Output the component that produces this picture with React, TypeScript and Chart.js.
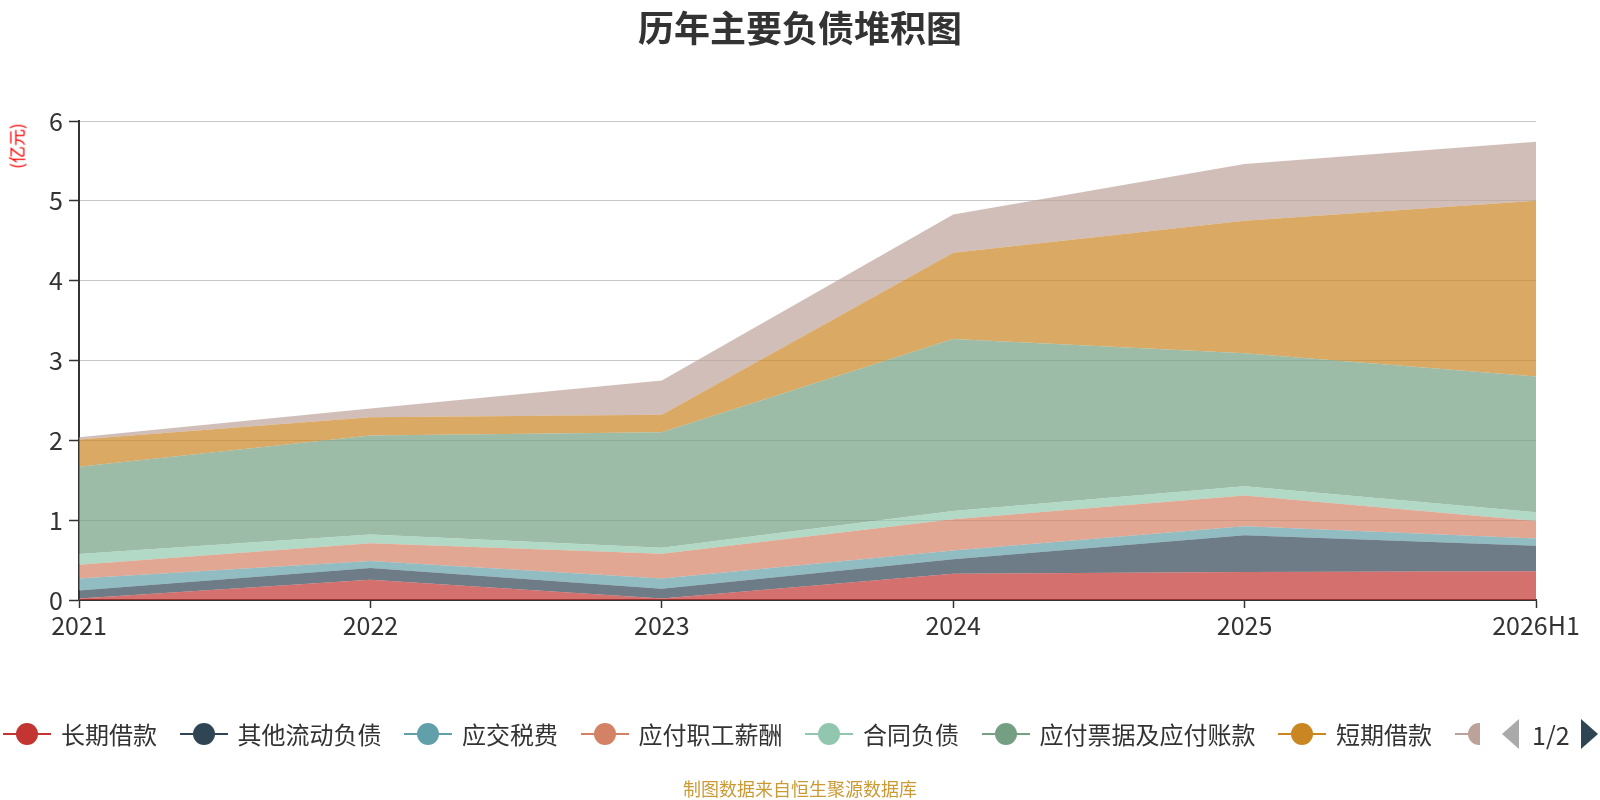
import { useEffect, useRef } from "react";
import { Chart, registerables } from "chart.js";

Chart.register(...registerables);

// categories and values (亿元)
const years = ["2021", "2022", "2023", "2024", "2025", "2026H1"];
const seriesNames = [
  "长期借款",
  "其他流动负债",
  "应交税费",
  "应付职工薪酬",
  "合同负债",
  "应付票据及应付账款",
  "短期借款",
  "其他应付款(合计)",
];
const seriesColors = [
  "#c23531",
  "#2f4554",
  "#61a0a8",
  "#d48265",
  "#91c7ae",
  "#749f83",
  "#ca8622",
  "#bda29a",
];
const longTermLoans = [0.02, 0.255, 0.02, 0.33, 0.35, 0.36];
const otherCurrentLiab = [0.1, 0.145, 0.12, 0.18, 0.46, 0.32];
const taxesPayable = [0.15, 0.09, 0.13, 0.11, 0.115, 0.09];
const payrollPayable = [0.17, 0.22, 0.31, 0.39, 0.385, 0.22];
const contractLiab = [0.135, 0.11, 0.075, 0.105, 0.115, 0.11];
const notesAndAccounts = [1.095, 1.24, 1.445, 2.155, 1.665, 1.7];
const shortTermLoans = [0.34, 0.23, 0.22, 1.08, 1.66, 2.2];
const otherPayables = [0.03, 0.11, 0.43, 0.48, 0.71, 0.74];
const yTicks = [0, 1, 2, 3, 4, 5, 6];

const seriesValues = [
  longTermLoans,
  otherCurrentLiab,
  taxesPayable,
  payrollPayable,
  contractLiab,
  notesAndAccounts,
  shortTermLoans,
  otherPayables,
];

const FONT = '"Noto Sans CJK SC", "Noto Sans", sans-serif';

function hexToRgba(hex: string, a: number) {
  const n = parseInt(hex.slice(1), 16);
  return `rgba(${(n >> 16) & 255}, ${(n >> 8) & 255}, ${n & 255}, ${a})`;
}

function LegendIcon({ color }: { color: string }) {
  return (
    <div style={{ position: "relative", width: 48, height: 24, flex: "0 0 48px" }}>
      <div
        style={{
          position: "absolute",
          left: 0,
          top: 11,
          width: 48,
          height: 2,
          background: color,
        }}
      />
      <div
        style={{
          position: "absolute",
          left: 13,
          top: 1,
          width: 22,
          height: 22,
          borderRadius: "50%",
          background: color,
        }}
      />
    </div>
  );
}

export default function App() {
  const chartRef = useRef<HTMLCanvasElement | null>(null);

  useEffect(() => {
    document.body.style.margin = "0";
    if (!chartRef.current) return;

    const chart = new Chart(chartRef.current, {
      type: "line",
      data: {
        labels: years,
        datasets: seriesValues.map((vals, i) => ({
          label: seriesNames[i],
          data: vals,
          backgroundColor: hexToRgba(seriesColors[i], 0.7),
          borderColor: seriesColors[i],
          borderWidth: 0,
          pointRadius: 0,
          fill: i === 0 ? "origin" : "-1",
          tension: 0,
        })),
      },
      options: {
        responsive: false,
        animation: false,
        devicePixelRatio: 1,
        layout: { padding: { left: 0, right: 64, top: 121, bottom: 150 } },
        plugins: {
          legend: { display: false },
          tooltip: { enabled: false },
        },
        scales: {
          x: {
            type: "category",
            offset: false,
            afterFit: (scale: any) => {
              scale.height = 50;
            },
            grid: {
              drawOnChartArea: false,
              drawTicks: true,
              tickLength: 8,
              tickColor: "#333",
              tickWidth: 1.5,
            },
            border: { display: true, color: "#333", width: 2 },
            ticks: {
              color: "#333",
              font: { family: FONT, size: 25 },
              padding: 2,
              maxRotation: 0,
              autoSkip: false,
            },
          },
          y: {
            stacked: true,
            min: yTicks[0],
            max: yTicks[yTicks.length - 1],
            afterFit: (scale: any) => {
              scale.width = 79;
            },
            grid: {
              color: "#c8c8c8",
              lineWidth: 1,
              tickLength: 10,
              tickColor: "#333",
              tickWidth: 1.5,
            },
            border: { display: true, color: "#333", width: 2 },
            ticks: {
              stepSize: 1,
              color: "#333",
              font: { family: FONT, size: 25 },
              padding: 6,
            },
          },
        },
      },
    });

    return () => {
      chart.destroy();
    };
  }, []);

  return (
    <div
      style={{
        position: "fixed",
        left: 0,
        top: 0,
        width: 1600,
        height: 800,
        background: "#fff",
        fontFamily: FONT,
        overflow: "hidden",
      }}
    >
      <canvas
        ref={chartRef}
        width={1600}
        height={800}
        style={{ position: "absolute", left: 0, top: 0, width: 1600, height: 800 }}
      />

      {/* title */}
      <div
        style={{
          position: "absolute",
          left: 0,
          top: 4,
          width: 1600,
          textAlign: "center",
          fontSize: 36,
          fontWeight: 700,
          color: "#333",
          lineHeight: "44px",
        }}
      >
        历年主要负债堆积图
      </div>

      {/* y axis unit */}
      <div
        style={{
          position: "absolute",
          left: 16,
          top: 146,
          transform: "translate(-50%, -50%) rotate(-90deg)",
          fontSize: 17,
          color: "#ff0000",
          whiteSpace: "nowrap",
          lineHeight: "17px",
        }}
      >
        (亿元)
      </div>

      {/* legend, first page */}
      <div
        style={{
          position: "absolute",
          left: 3,
          top: 716,
          width: 1477,
          height: 36,
          overflow: "hidden",
        }}
      >
        <div style={{ display: "flex", alignItems: "center", height: 36, whiteSpace: "nowrap" }}>
          {seriesNames.map((name, i) => (
            <div
              key={name}
              style={{ display: "flex", alignItems: "center", marginRight: 22.5, flex: "0 0 auto" }}
            >
              <LegendIcon color={seriesColors[i]} />
              <span style={{ marginLeft: 10, fontSize: 24, color: "#333", lineHeight: "36px" }}>
                {name}
              </span>
            </div>
          ))}
        </div>
      </div>

      {/* legend pager */}
      <div
        style={{
          position: "absolute",
          left: 1502,
          top: 719,
          width: 0,
          height: 0,
          borderTop: "15px solid transparent",
          borderBottom: "15px solid transparent",
          borderRight: "17px solid #aaa",
        }}
      />
      <div
        style={{
          position: "absolute",
          left: 1532,
          top: 716,
          fontSize: 25,
          color: "#333",
          lineHeight: "36px",
        }}
      >
        1/2
      </div>
      <div
        style={{
          position: "absolute",
          left: 1581,
          top: 719,
          width: 0,
          height: 0,
          borderTop: "15px solid transparent",
          borderBottom: "15px solid transparent",
          borderLeft: "17px solid #2f4554",
        }}
      />

      {/* source note */}
      <div
        style={{
          position: "absolute",
          left: 0,
          top: 777,
          width: 1600,
          textAlign: "center",
          fontSize: 18,
          color: "#cc9a35",
          lineHeight: "22px",
        }}
      >
        制图数据来自恒生聚源数据库
      </div>
    </div>
  );
}
